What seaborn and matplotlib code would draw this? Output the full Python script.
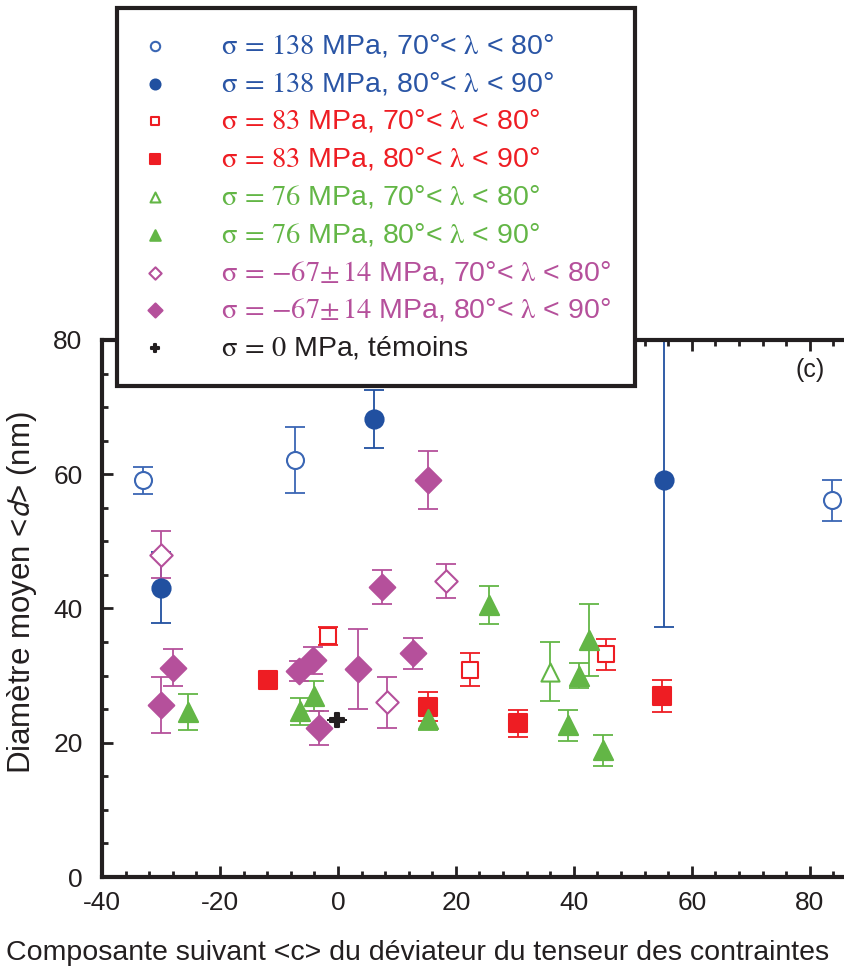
import numpy as np
import pandas as pd
import seaborn as sns
import matplotlib.pyplot as plt
from matplotlib.ticker import MultipleLocator

# series values: x, y, half error bar
b_open_x = [-33.0, -7.3, 83.8]
b_open_y = [59.1, 62.1, 56.1]
b_open_e = [2.0, 4.9, 3.0]

b_fill_x = [-30.0, 6.2, 55.3]
b_fill_y = [43.1, 68.2, 59.1]
b_fill_e = [5.3, 4.3, 21.8]

r_open_x = [-1.7, 22.4, 45.5]
r_open_y = [35.9, 30.9, 33.2]
r_open_e = [1.4, 2.4, 2.3]

r_fill_x = [-11.8, 15.2, 30.6, 54.9]
r_fill_y = [29.4, 25.4, 22.9, 27.0]
r_fill_e = [0.6, 2.2, 2.0, 2.4]

g_open_x = [36.0]
g_open_y = [30.6]
g_open_e = [4.4]

g_fill_x = [-25.4, -6.4, -4.1, 15.2, 25.6, 39.0, 40.8, 42.6, 44.9]
g_fill_y = [24.6, 24.7, 27.0, 23.5, 40.5, 22.6, 30.0, 35.3, 18.9]
g_fill_e = [2.7, 2.0, 2.2, 1.6, 2.8, 2.3, 1.9, 5.4, 2.3]

m_open_x = [-30.0, 18.3, 8.4]
m_open_y = [48.0, 44.1, 26.0]
m_open_e = [3.5, 2.6, 3.8]

m_fill_x = [-30.0, -28.0, -6.6, -4.3, -3.2, 3.4, 12.8, 7.5, 15.2]
m_fill_y = [25.6, 31.2, 30.7, 32.3, 22.2, 31.0, 33.3, 43.2, 59.1]
m_fill_e = [4.2, 2.7, 1.5, 2.0, 2.6, 6.0, 2.3, 2.5, 4.3]

k_x = [-0.1]
k_y = [23.4]
k_e = [0.0]

labels = [
    r"$\mathrm{\sigma\,=\,138}$ MPa, 70°< $\mathrm{\lambda}$ < 80°",
    r"$\mathrm{\sigma\,=\,138}$ MPa, 80°< $\mathrm{\lambda}$ < 90°",
    r"$\mathrm{\sigma\,=\,83}$ MPa, 70°< $\mathrm{\lambda}$ < 80°",
    r"$\mathrm{\sigma\,=\,83}$ MPa, 80°< $\mathrm{\lambda}$ < 90°",
    r"$\mathrm{\sigma\,=\,76}$ MPa, 70°< $\mathrm{\lambda}$ < 80°",
    r"$\mathrm{\sigma\,=\,76}$ MPa, 80°< $\mathrm{\lambda}$ < 90°",
    r"$\mathrm{\sigma\,=\,{-}67{\pm}\,14}$ MPa, 70°< $\mathrm{\lambda}$ < 80°",
    r"$\mathrm{\sigma\,=\,{-}67{\pm}\,14}$ MPa, 80°< $\mathrm{\lambda}$ < 90°",
    r"$\mathrm{\sigma\,=\,0}$ MPa, témoins",
]

series = [
    (b_open_x, b_open_y, b_open_e),
    (b_fill_x, b_fill_y, b_fill_e),
    (r_open_x, r_open_y, r_open_e),
    (r_fill_x, r_fill_y, r_fill_e),
    (g_open_x, g_open_y, g_open_e),
    (g_fill_x, g_fill_y, g_fill_e),
    (m_open_x, m_open_y, m_open_e),
    (m_fill_x, m_fill_y, m_fill_e),
    (k_x, k_y, k_e),
]

rows = []
for lab, (xs, ys, es) in zip(labels, series):
    for xv, yv, ev in zip(xs, ys, es):
        rows.append({"groupe": lab, "x": xv, "y": yv, "err": ev})
df = pd.DataFrame(rows)

# style per series: marker, size, colour, filled
styles = [
    ("o", 150, "#3A66B4", False),
    ("o", 170, "#2150A0", True),
    ("s", 120, "#EE1D23", False),
    ("s", 150, "#EE1D23", True),
    ("^", 170, "#63B646", False),
    ("^", 190, "#63B646", True),
    ("D", 130, "#B5509B", False),
    ("D", 170, "#B5509B", True),
    ("P", 110, "#231F20", True),
]
text_colors = ["#2A55A5", "#2A55A5", "#EE1D23", "#EE1D23", "#63B646",
               "#63B646", "#B5509B", "#B5509B", "#231F20"]

sns.set_theme(style="ticks")
plt.rcParams["font.family"] = ["Liberation Sans", "DejaVu Sans"]
plt.rcParams["mathtext.fontset"] = "stix"
plt.rcParams["axes.unicode_minus"] = False

fig = plt.figure(figsize=(8.44, 9.72), dpi=100)
ax = fig.add_axes([102 / 844, 95 / 972, 1 - 102 / 844, 537 / 972])

for lab, (mk, sz, col, filled) in zip(labels, styles):
    sub = df[df["groupe"] == lab]
    ax.errorbar(sub["x"], sub["y"], yerr=sub["err"], fmt="none", ecolor=col,
                elinewidth=1.3, capsize=7, capthick=1.3, zorder=2)
    sns.scatterplot(data=sub, x="x", y="y", ax=ax, marker=mk, s=sz,
                    facecolor=col if filled else "white", edgecolor=col,
                    linewidth=1.5, label=lab, zorder=3)

ax.set_xlim(-40, 85.8)
ax.set_ylim(0, 80)
ax.xaxis.set_major_locator(MultipleLocator(20))
ax.xaxis.set_minor_locator(MultipleLocator(4))
ax.yaxis.set_major_locator(MultipleLocator(20))
ax.yaxis.set_minor_locator(MultipleLocator(5))
ax.tick_params(which="both", direction="in", top=True, right=False, width=2, color="#231F20")
ax.tick_params(which="major", length=8, labelsize=19, labelcolor="#231F20")
ax.tick_params(axis="x", which="major", pad=10)
ax.tick_params(axis="y", which="major", pad=14)
ax.tick_params(which="minor", length=4)
for side in ["left", "bottom", "top"]:
    ax.spines[side].set_linewidth(3)
    ax.spines[side].set_color("#231F20")
ax.spines["right"].set_visible(False)

ax.set_ylabel(r"Diamètre moyen <$\mathit{d}$> (nm)", fontsize=22.5,
              math_fontfamily="stixsans", color="#231F20")
ax.yaxis.set_label_coords(-0.085, 0.53)
ax.set_xlabel("")
fig.text(6 / 844, 1 - 960 / 972, "Composante suivant <c> du déviateur du tenseur des contraintes",
         fontsize=20.5, ha="left", va="baseline", color="#231F20")

ax.text(80, 75.6, "(c)", fontsize=18, ha="center", va="center", color="#231F20")

leg = ax.legend(loc="upper left", bbox_to_anchor=(117 / 844, 1 - 8 / 972),
                bbox_transform=fig.transFigure, borderaxespad=0, fontsize=20.5,
                markerscale=0.55, handletextpad=1.8, labelspacing=0.38,
                borderpad=0.85, handlelength=1.0, fancybox=False, framealpha=1)
leg.get_frame().set_edgecolor("#231F20")
leg.get_frame().set_linewidth(3)
for t, c in zip(leg.get_texts(), text_colors):
    t.set_color(c)

fig.savefig("out.png", dpi=100)
